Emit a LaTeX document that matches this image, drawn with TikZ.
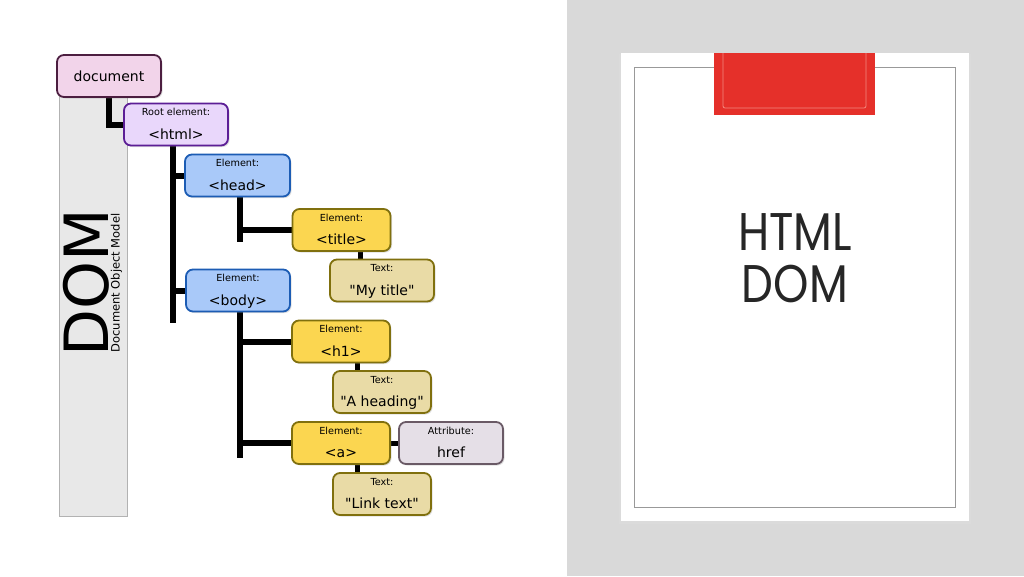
\documentclass[tikz,border=0pt]{standalone}
\usepackage{fontspec}
\setmainfont{DejaVu Sans}
\newfontfamily\titlefont{Poppins}
\usetikzlibrary{calc,shadows,backgrounds}
\definecolor{docfill}{HTML}{F2D4EA}\definecolor{docdraw}{HTML}{4C1E40}
\definecolor{rootfill}{HTML}{E9D7FB}\definecolor{rootdraw}{HTML}{5C1E96}
\definecolor{bluefill}{HTML}{A9C9F9}\definecolor{bluedraw}{HTML}{1C5CB4}
\definecolor{yelfill}{HTML}{FBD650}\definecolor{yeldraw}{HTML}{80700E}
\definecolor{txtfill}{HTML}{E9DBA6}\definecolor{txtdraw}{HTML}{80700E}
\definecolor{attfill}{HTML}{E5DFE7}\definecolor{attdraw}{HTML}{6A5A66}
\definecolor{panelgray}{HTML}{D9D9D9}
\definecolor{bargray}{HTML}{E8E8E8}
\definecolor{tabred}{HTML}{E5302A}
\definecolor{tabline}{HTML}{F28A80}
\definecolor{titlegray}{HTML}{262626}
\tikzset{
  box/.style={draw, rounded corners=7pt, line width=1.8pt, minimum height=42pt, inner sep=0pt,
    drop shadow={shadow xshift=1.5pt, shadow yshift=-1.5pt, opacity=0.25}},
  docbox/.style={fill=docfill, draw=docdraw},
  rootbox/.style={fill=rootfill, draw=rootdraw},
  bluebox/.style={fill=bluefill, draw=bluedraw},
  yelbox/.style={fill=yelfill, draw=yeldraw},
  txtbox/.style={fill=txtfill, draw=txtdraw},
  attbox/.style={fill=attfill, draw=attdraw},
  lbl/.style={anchor=base, inner sep=0pt, font=\fontsize{9.7}{11}\selectfont, text=black},
  mainlbl/.style={anchor=base, inner sep=0pt, font=\fontsize{14}{16}\selectfont, text=black},
  conn/.style={line width=6pt, black},
  thinconn/.style={line width=5pt, black},
}
\newcommand\dombox[7]{%
  \node[box,#2,minimum width=#5pt] (#1) at (#3,#4) {};
  \node[lbl] (#1-l) at ($(#1.north)+(0,13)$) {#6};
  \node[mainlbl] (#1-m) at ($(#1.south)+(0,-7)$) {#7};
}
\newcommand\q{\textquotedbl}
\begin{document}
\begin{tikzpicture}[x=1pt,y=-1pt]
\useasboundingbox (0,0) rectangle (1024,576);
\begin{scope}[on background layer]
  \fill[white] (0,0) rectangle (567,576);
  \fill[bargray] (59,90) rectangle (127,516);
  \draw[black!30, line width=0.7pt] (59,90) -- (59,516) -- (127,516) -- (127,90);
\end{scope}
% right panel
\fill[panelgray] (567,0) rectangle (1024,576);
\fill[black!22] (619.5,53.5) rectangle (970.5,523);
\fill[black!14] (619,54) rectangle (971,524);
\fill[white] (621,53) rectangle (969,521);
\draw[black!40, line width=1pt] (634,67) rectangle (955,507);
\fill[tabred] (714,53) rectangle (875,115);
\draw[tabline, line width=0.8pt, rounded corners=2pt] (723,53) -- (723,108) -- (866,108) -- (866,53);
\node[anchor=base, inner sep=0pt, text=titlegray, font=\titlefont\fontsize{53}{53}\selectfont, xscale=0.85, transform shape] (t1) at (795,250) {HTML};
\node[anchor=base, inner sep=0pt, text=titlegray, font=\titlefont\fontsize{53}{53}\selectfont, xscale=0.85, transform shape] (t2) at (795,302) {DOM};
\node[rotate=90, inner sep=0pt, font=\fontsize{61}{61}\selectfont, text=black] (dom) at (86,283) {DOM};
\node[rotate=90, inner sep=0pt, font=\fontsize{11.5}{12}\selectfont, text=black] (dommodel) at (116.5,283) {Document Object Model};
% nodes
\node[box,docbox,minimum width=104pt,font=\fontsize{14}{16}\selectfont] (doc) at (109,76) {document};
\dombox{html}{rootbox}{176}{124.5}{104}{Root element:}{<html>}
\dombox{head}{bluebox}{237.5}{175.5}{105}{Element:}{<head>}
\dombox{body}{bluebox}{238}{290.5}{104}{Element:}{<body>}
\dombox{title}{yelbox}{341.5}{230}{98}{Element:}{<title>}
\dombox{mytitle}{txtbox}{382}{280.5}{104}{Text:}{\q My title\q}
\dombox{h1}{yelbox}{341}{341.5}{98}{Element:}{<h1>}
\dombox{heading}{txtbox}{382}{392}{98}{Text:}{\q A heading\q}
\dombox{a}{yelbox}{341}{443}{98}{Element:}{<a>}
\dombox{href}{attbox}{451}{443}{104}{Attribute:}{href}
\dombox{link}{txtbox}{382}{494}{98}{Text:}{\q Link text\q}
% connectors
\coordinate (hv) at (173,323);
\coordinate (headv) at (240,242);
\coordinate (bodyv) at (240,458);
\begin{scope}[on background layer]
  \draw[conn] (doc.south) |- (html.west);
  \draw[conn] (html.south -| hv) -- (hv);
  \draw[conn] (hv |- head.west) -- (head.west);
  \draw[conn] (hv |- body.west) -- (body.west);
  \draw[conn] (head.south -| headv) -- (headv);
  \draw[conn] (headv |- title.west) -- (title.west);
  \draw[conn] (body.south -| bodyv) -- (bodyv);
  \draw[conn] (bodyv |- h1.west) -- (h1.west);
  \draw[conn] (bodyv |- a.west) -- (a.west);
  \draw[thinconn] ([xshift=-22pt]mytitle.north) -- ([xshift=-22pt]mytitle.north |- title.south);
  \draw[thinconn] ([xshift=-25pt]heading.north) -- ([xshift=-25pt]heading.north |- h1.south);
  \draw[thinconn] ([xshift=-25pt]link.north) -- ([xshift=-25pt]link.north |- a.south);
  \draw[thinconn] (a.east) -- (href.west);
\end{scope}
\end{tikzpicture}
\end{document}
